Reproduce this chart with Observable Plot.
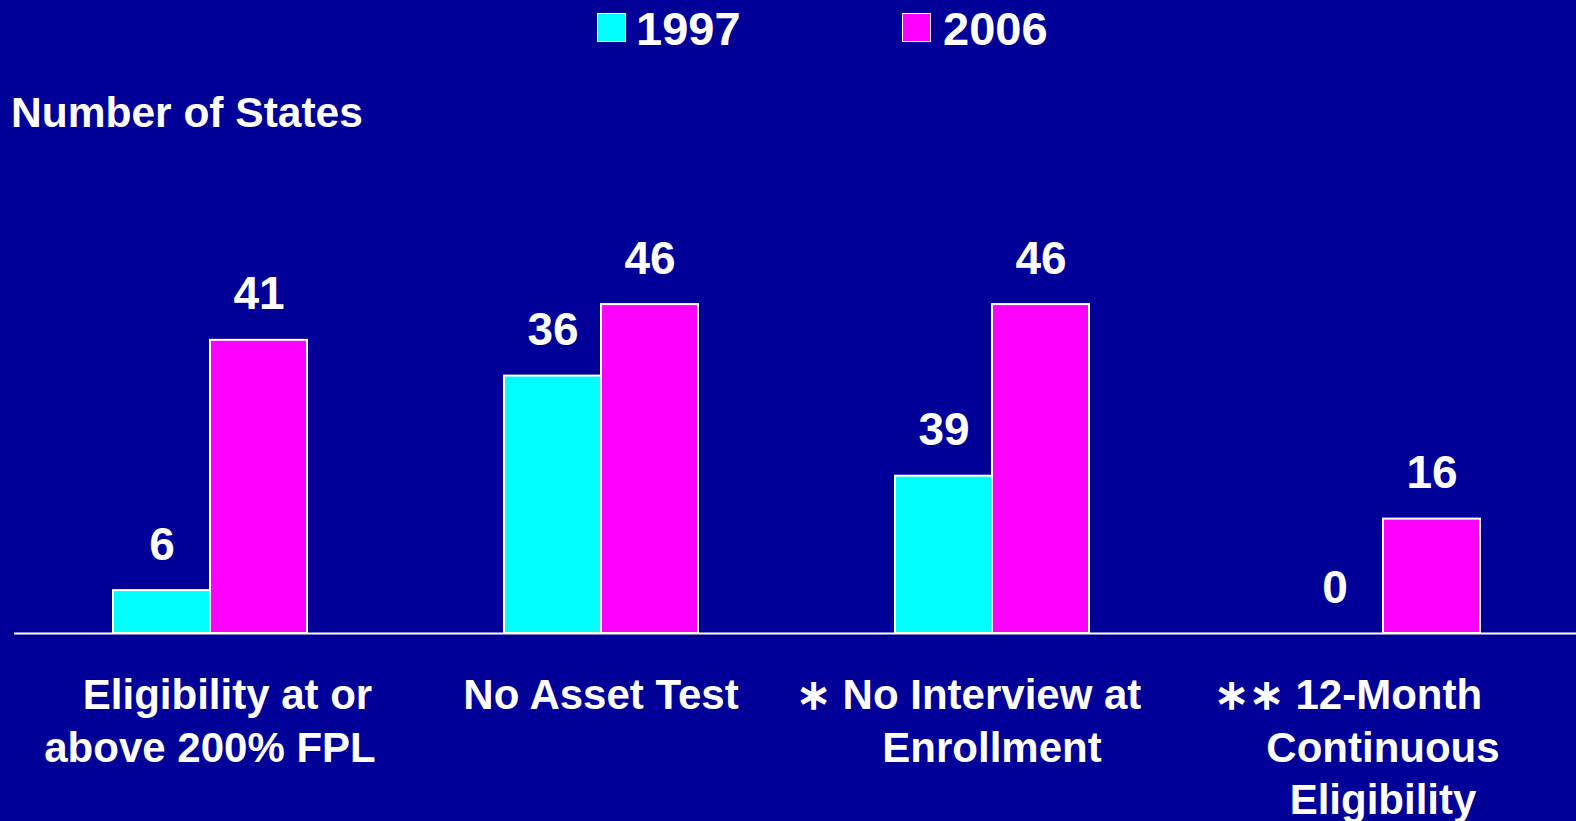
<!DOCTYPE html>
<html>
<head>
<meta charset="utf-8">
<script src="https://cdn.jsdelivr.net/npm/d3@7"></script>
<script src="https://cdn.jsdelivr.net/npm/@observablehq/plot@0.6"></script>
<style>
  html, body { margin: 0; padding: 0; background: #000099; overflow: hidden; }
  body { width: 1576px; height: 821px; font-family: "Liberation Sans", Arial, sans-serif; color: white; }
  #top { position: relative; height: 140px; }
  .sw { position: absolute; top: 13px; width: 27px; height: 27px; border: 1.5px solid white; }
  .lg { position: absolute; top: 5px; font-size: 47px; line-height: 47px; font-weight: bold; white-space: nowrap; }
  #ylab { position: absolute; left: 11px; top: 92px; font-size: 42.5px; line-height: 42px; font-weight: bold; white-space: nowrap; }
  #chart svg { display: block; }
</style>
</head>
<body>
<div id="top">
  <div class="sw" style="left:597px; background:#00ffff"></div>
  <div class="lg" style="left:636px">1997</div>
  <div class="sw" style="left:902px; background:#ff00ff"></div>
  <div class="lg" style="left:943px">2006</div>
  <div id="ylab">Number of States</div>
</div>
<div id="chart"></div>
<script>
const categories = [
  "\u00a0\u00a0\u00a0Eligibility at or\nabove 200% FPL",
  "No Asset Test",
  "\u2217 No Interview at\u00a0\u00a0\u00a0\u00a0\nEnrollment",
  "\u2217\u2217 12-Month\u00a0\u00a0\u00a0\u00a0\u00a0\u00a0\nContinuous\nEligibility"
];
const years = ["1997", "2006"];
const values1997 = [6, 36, 22, 0];
const values2006 = [41, 46, 46, 16];
const labels1997 = ["6", "36", "39", "0"];
const labels2006 = ["41", "46", "46", "16"];
const colors = ["#00ffff", "#ff00ff"];

const data = [];
categories.forEach((c, i) => {
  data.push({cat: c, year: years[0], value: values1997[i], label: labels1997[i]});
  data.push({cat: c, year: years[1], value: values2006[i], label: labels2006[i]});
});

const chart = Plot.plot({
  width: 1576,
  height: 681,
  marginTop: 64,
  marginBottom: 188,
  marginLeft: 13,
  marginRight: -2,
  style: {background: "transparent", color: "white", fontFamily: "Liberation Sans, Arial, sans-serif"},
  fx: {domain: categories, padding: 0, axis: null},
  x: {domain: years, paddingInner: 0, paddingOuter: 1, axis: null},
  y: {domain: [0, 60], axis: null},
  color: {domain: years, range: colors},
  marks: [
    Plot.barY(data, {fx: "cat", x: "year", y: "value", fill: "year", stroke: "white", strokeWidth: 2, inset: 0}),
    Plot.ruleY([0], {stroke: "white", strokeWidth: 2}),
    Plot.text(data, {fx: "cat", x: "year", y: "value", text: "label", dy: -31, lineAnchor: "bottom", fill: "white", fontSize: 46, fontWeight: "bold"}),
    Plot.text(categories, {fx: d => d, text: d => d, frameAnchor: "bottom", lineAnchor: "top", dy: 39, fill: "white", fontSize: 42, fontWeight: "bold", lineHeight: 1.24})
  ]
});
document.getElementById("chart").appendChild(chart);
</script>
</body>
</html>
